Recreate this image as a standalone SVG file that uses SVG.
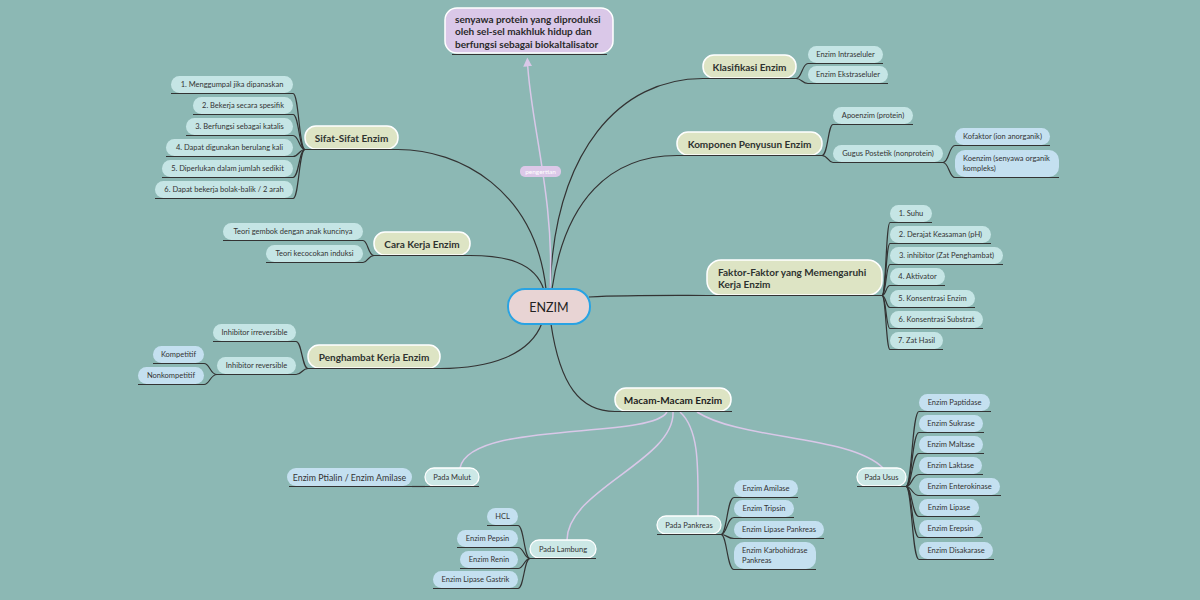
<svg xmlns="http://www.w3.org/2000/svg" width="1200" height="600" viewBox="0 0 1200 600">
<defs>
<style>
text{font-family:Lato,"Open Sans","Liberation Sans",sans-serif;fill:#333;dominant-baseline:central}
.main rect{fill:#dde4c4;stroke:#fff;stroke-width:1.5}
.main text{font-size:10px;font-weight:bold;text-anchor:middle;fill:#2e3230}
.cy rect{fill:#c5e5e5}
.bl rect{fill:#c4e0f0}
.pd rect{fill:#cce8e6;stroke:#fff;stroke-width:1.3}
.lf text{font-size:7.5px;text-anchor:middle}
.ml text{text-anchor:start}
.ul{stroke:#333;stroke-width:1;fill:none}
.cn path{fill:none;stroke:#333;stroke-width:1.2}
.cn path.lv{stroke:#d9c8e8;stroke-width:1.5}
</style>
<marker id="ar" viewBox="0 0 10 10" refX="5" refY="5" markerWidth="9" markerHeight="9" orient="auto" markerUnits="userSpaceOnUse">
<path d="M0,0 L10,5 L0,10 Z" fill="#d9c8e8"/>
</marker>
</defs>
<rect width="1200" height="600" fill="#8cb8b4"/>

<g id="connectors" class="cn">
<path d="M546,289 C535,190 460,149.5 398,149.5"/>
<path d="M544,290 C535,262 505,255.5 470,255.5"/>
<path d="M542,323 C530,355 490,368.5 440,368.5"/>
<path d="M550,289 C555,150 620,78.5 703,78.5"/>
<path d="M552,289 C565,200 610,155.5 677,155.5"/>
<path d="M589,297 C630,295 670,295.5 707,295.5"/>
<path d="M551,324 C560,385 580,411.5 615,411.5"/>
<path class="lv" d="M550,289 C555,200 530,120 527.5,62" marker-end="url(#ar)"/>
<!-- Sifat bracket -->
<path d="M305,149.5 C299,149.5 299,93.5 293,93.5"/>
<path d="M305,149.5 C299,149.5 299,114.5 293,114.5"/>
<path d="M305,149.5 C299,149.5 299,135.5 293,135.5"/>
<path d="M305,149.5 C299,149.5 299,156.5 293,156.5"/>
<path d="M305,149.5 C299,149.5 299,177.5 293,177.5"/>
<path d="M305,149.5 C299,149.5 299,198.5 293,198.5"/>
<!-- Cara -->
<path d="M374,255.5 C368,255.5 368,240.5 363,240.5"/>
<path d="M374,255.5 C368,255.5 368,262.5 363,262.5"/>
<!-- Penghambat -->
<path d="M308,368.5 C302,368.5 302,341.5 296,341.5"/>
<path d="M308,368.5 C302,368.5 302,374.5 296,374.5"/>
<path d="M217,374.5 C210,374.5 210,363.5 204,363.5"/>
<path d="M217,374.5 C210,374.5 210,384.5 204,384.5"/>
<!-- Klasifikasi -->
<path d="M796,78.5 C802,78.5 802,63.5 808,63.5"/>
<path d="M796,78.5 C802,78.5 802,83.5 808,83.5"/>
<!-- Komponen -->
<path d="M822,155.5 C828,155.5 828,124.5 833,124.5"/>
<path d="M822,155.5 C828,155.5 828,162.5 833,162.5"/>
<path d="M943,162.5 C949,162.5 949,145.5 955,145.5"/>
<path d="M943,162.5 C949,162.5 949,177.5 955,177.5"/>
<!-- Faktor -->
<path d="M882,295.5 C886,295.5 886,222.5 890,222.5"/>
<path d="M882,295.5 C886,295.5 886,243.5 890,243.5"/>
<path d="M882,295.5 C886,295.5 886,264.5 890,264.5"/>
<path d="M882,295.5 C886,295.5 886,285.5 890,285.5"/>
<path d="M882,295.5 C886,295.5 886,307.5 890,307.5"/>
<path d="M882,295.5 C886,295.5 886,328.5 890,328.5"/>
<path d="M882,295.5 C886,295.5 886,349.5 890,349.5"/>
<!-- Macam sub -->
<path class="lv" d="M667,412 C650,440 470,420 460,468"/>
<path class="lv" d="M673,412 C675,460 567,490 567,540"/>
<path class="lv" d="M680,412 C700,430 698,470 698,516"/>
<path class="lv" d="M697,412 C740,440 850,435 883,468"/>
<path d="M412,486.5 L425,486.5"/>
<!-- Lambung -->
<path d="M530,558.5 C524,558.5 524,525.5 518,525.5"/>
<path d="M530,558.5 C524,558.5 524,547.5 518,547.5"/>
<path d="M530,558.5 C524,558.5 524,568.5 518,568.5"/>
<path d="M530,558.5 C524,558.5 524,588.5 518,588.5"/>
<!-- Pankreas -->
<path d="M721,534.5 C727,534.5 727,497.5 734,497.5"/>
<path d="M721,534.5 C727,534.5 727,517.5 734,517.5"/>
<path d="M721,534.5 C727,534.5 727,538.5 734,538.5"/>
<path d="M721,534.5 C727,534.5 727,569.5 734,569.5"/>
<!-- Usus -->
<path d="M906,486.5 C912,486.5 912,411.5 919,411.5"/>
<path d="M906,486.5 C912,486.5 912,432.5 919,432.5"/>
<path d="M906,486.5 C912,486.5 912,453.5 919,453.5"/>
<path d="M906,486.5 C912,486.5 912,474.5 919,474.5"/>
<path d="M906,486.5 C912,486.5 912,495.5 919,495.5"/>
<path d="M906,486.5 C912,486.5 912,516.5 919,516.5"/>
<path d="M906,486.5 C912,486.5 912,537.5 919,537.5"/>
<path d="M906,486.5 C912,486.5 912,559.5 919,559.5"/>
</g>

<g id="root">
<rect x="508" y="289" width="82" height="35" rx="17" fill="#e8d4d4" stroke="#29a3e3" stroke-width="2"/>
<text x="549" y="307" font-size="12.5" text-anchor="middle" style="fill:#222">ENZIM</text>
</g>

<g id="definisi">
<rect x="445" y="8" width="168" height="45" rx="12" fill="#dac8e8" stroke="#fff" stroke-width="1.5"/>
<line class="ul" x1="452" y1="54.5" x2="607" y2="54.5"/>
<text x="455" y="18.5" font-size="10" font-weight="bold" style="fill:#2a2a2a">senyawa protein yang diproduksi</text>
<text x="455" y="31" font-size="10" font-weight="bold" style="fill:#2a2a2a">oleh sel-sel makhluk hidup dan</text>
<text x="455" y="43.5" font-size="10" font-weight="bold" style="fill:#2a2a2a">berfungsi sebagai biokaltalisator</text>
</g>

<g id="label-pengertian">
<rect x="520" y="166" width="41" height="11" rx="5" fill="#dcc8e8"/>
<text x="540.5" y="171.5" font-size="6.5" text-anchor="middle" style="fill:#ffffff">pengertian</text>
</g>

<g id="sifat" class="main"><rect x="305" y="126" width="93" height="23" rx="11"/><line class="ul" x1="305" y1="149.5" x2="398" y2="149.5"/><text x="351.5" y="137.5">Sifat-Sifat Enzim</text></g>
<g id="cara" class="main"><rect x="374" y="232" width="96" height="23" rx="11"/><line class="ul" x1="374" y1="255.5" x2="470" y2="255.5"/><text x="422" y="243.5">Cara Kerja Enzim</text></g>
<g id="penghambat" class="main"><rect x="308" y="345" width="132" height="23" rx="11"/><line class="ul" x1="308" y1="368.5" x2="440" y2="368.5"/><text x="374" y="356.5">Penghambat Kerja Enzim</text></g>
<g id="klasifikasi" class="main"><rect x="703" y="55" width="93" height="23" rx="11"/><line class="ul" x1="703" y1="78.5" x2="796" y2="78.5"/><text x="749.5" y="66.5">Klasifikasi Enzim</text></g>
<g id="komponen" class="main"><rect x="677" y="132" width="145" height="23" rx="11"/><line class="ul" x1="677" y1="155.5" x2="822" y2="155.5"/><text x="749.5" y="143.5">Komponen Penyusun Enzim</text></g>
<g id="faktor" class="main"><rect x="707" y="260" width="175" height="35" rx="14"/><line class="ul" x1="707" y1="295.5" x2="882" y2="295.5"/><text x="718" y="271.5" style="text-anchor:start">Faktor-Faktor yang Memengaruhi</text><text x="718" y="284" style="text-anchor:start">Kerja Enzim</text></g>
<g id="macam" class="main"><rect x="615" y="388" width="116" height="23" rx="11"/><line class="ul" x1="615" y1="411.5" x2="732" y2="411.5"/><text x="673" y="399.5" style="fill:#1e1e1e">Macam-Macam Enzim</text></g>

<!-- Sifat children -->
<g id="s1" class="lf cy"><rect x="171" y="76" width="122" height="17" rx="8.5"/><line class="ul" x1="171" y1="93.5" x2="293" y2="93.5"/><text x="232" y="84.5">1. Menggumpal jika dipanaskan</text></g>
<g id="s2" class="lf cy"><rect x="193" y="97" width="100" height="17" rx="8.5"/><line class="ul" x1="193" y1="114.5" x2="293" y2="114.5"/><text x="243" y="105.5">2. Bekerja secara spesifik</text></g>
<g id="s3" class="lf cy"><rect x="186" y="118" width="107" height="17" rx="8.5"/><line class="ul" x1="186" y1="135.5" x2="293" y2="135.5"/><text x="239.5" y="126.5">3. Berfungsi sebagai katalis</text></g>
<g id="s4" class="lf cy"><rect x="166" y="139" width="127" height="17" rx="8.5"/><line class="ul" x1="166" y1="156.5" x2="293" y2="156.5"/><text x="229.5" y="147.5">4. Dapat digunakan berulang kali</text></g>
<g id="s5" class="lf cy"><rect x="162" y="160" width="131" height="17" rx="8.5"/><line class="ul" x1="162" y1="177.5" x2="293" y2="177.5"/><text x="227.5" y="168.5">5. Diperlukan dalam jumlah sedikit</text></g>
<g id="s6" class="lf cy"><rect x="155" y="181" width="138" height="17" rx="8.5"/><line class="ul" x1="155" y1="198.5" x2="293" y2="198.5"/><text x="224" y="189.5">6. Dapat bekerja bolak-balik / 2 arah</text></g>

<!-- Cara children -->
<g id="c1" class="lf cy"><rect x="223" y="223" width="140" height="17" rx="8.5"/><line class="ul" x1="223" y1="240.5" x2="363" y2="240.5"/><text x="293" y="231.5">Teori gembok dengan anak kuncinya</text></g>
<g id="c2" class="lf cy"><rect x="266" y="245" width="97" height="17" rx="8.5"/><line class="ul" x1="266" y1="262.5" x2="363" y2="262.5"/><text x="314.5" y="253.5">Teori kecocokan induksi</text></g>

<!-- Penghambat children -->
<g id="p1" class="lf cy"><rect x="213" y="324" width="83" height="17" rx="8.5"/><line class="ul" x1="213" y1="341.5" x2="296" y2="341.5"/><text x="254.5" y="332.5">Inhibitor irreversible</text></g>
<g id="p2" class="lf cy"><rect x="217" y="357" width="79" height="17" rx="8.5"/><line class="ul" x1="217" y1="374.5" x2="296" y2="374.5"/><text x="256.5" y="365.5">Inhibitor reversible</text></g>
<g id="p3" class="lf bl"><rect x="153" y="346" width="51" height="17" rx="8.5"/><line class="ul" x1="153" y1="363.5" x2="204" y2="363.5"/><text x="178.5" y="354.5">Kompetitif</text></g>
<g id="p4" class="lf bl"><rect x="138" y="367" width="66" height="17" rx="8.5"/><line class="ul" x1="138" y1="384.5" x2="204" y2="384.5"/><text x="171" y="375.5">Nonkompetitif</text></g>

<!-- Klasifikasi children -->
<g id="k1" class="lf cy"><rect x="808" y="46" width="75" height="17" rx="8.5"/><line class="ul" x1="808" y1="63.5" x2="883" y2="63.5"/><text x="845.5" y="54.5">Enzim Intraseluler</text></g>
<g id="k2" class="lf cy"><rect x="808" y="66" width="80" height="17" rx="8.5"/><line class="ul" x1="808" y1="83.5" x2="888" y2="83.5"/><text x="848" y="74.5">Enzim Ekstraseluler</text></g>

<!-- Komponen children -->
<g id="m1" class="lf cy"><rect x="833" y="107" width="80" height="17" rx="8.5"/><line class="ul" x1="833" y1="124.5" x2="913" y2="124.5"/><text x="873" y="115.5">Apoenzim (protein)</text></g>
<g id="m2" class="lf cy"><rect x="833" y="145" width="110" height="17" rx="8.5"/><line class="ul" x1="833" y1="162.5" x2="943" y2="162.5"/><text x="888" y="153.5">Gugus Postetik (nonprotein)</text></g>
<g id="m3" class="lf bl"><rect x="955" y="128" width="95" height="17" rx="8.5"/><line class="ul" x1="955" y1="145.5" x2="1050" y2="145.5"/><text x="1002.5" y="136.5">Kofaktor (ion anorganik)</text></g>
<g id="m4" class="lf bl ml"><rect x="955" y="150" width="104" height="27" rx="10"/><line class="ul" x1="955" y1="177.5" x2="1059" y2="177.5"/><text x="963" y="158.5">Koenzim (senyawa organik</text><text x="963" y="168.5">kompleks)</text></g>

<!-- Faktor children -->
<g id="f1" class="lf cy"><rect x="890" y="205" width="42" height="17" rx="8.5"/><line class="ul" x1="890" y1="222.5" x2="932" y2="222.5"/><text x="911" y="213.5">1. Suhu</text></g>
<g id="f2" class="lf cy"><rect x="890" y="226" width="101" height="17" rx="8.5"/><line class="ul" x1="890" y1="243.5" x2="991" y2="243.5"/><text x="940.5" y="234.5">2. Derajat Keasaman (pH)</text></g>
<g id="f3" class="lf cy"><rect x="890" y="247" width="113" height="17" rx="8.5"/><line class="ul" x1="890" y1="264.5" x2="1003" y2="264.5"/><text x="946.5" y="255.5">3. inhibitor (Zat Penghambat)</text></g>
<g id="f4" class="lf cy"><rect x="890" y="268" width="55" height="17" rx="8.5"/><line class="ul" x1="890" y1="285.5" x2="945" y2="285.5"/><text x="917.5" y="276.5">4. Aktivator</text></g>
<g id="f5" class="lf cy"><rect x="890" y="290" width="85" height="17" rx="8.5"/><line class="ul" x1="890" y1="307.5" x2="975" y2="307.5"/><text x="932.5" y="298.5">5. Konsentrasi Enzim</text></g>
<g id="f6" class="lf cy"><rect x="890" y="311" width="93" height="17" rx="8.5"/><line class="ul" x1="890" y1="328.5" x2="983" y2="328.5"/><text x="936.5" y="319.5">6. Konsentrasi Substrat</text></g>
<g id="f7" class="lf cy"><rect x="890" y="332" width="53" height="17" rx="8.5"/><line class="ul" x1="890" y1="349.5" x2="943" y2="349.5"/><text x="916.5" y="340.5">7. Zat Hasil</text></g>

<!-- Macam children -->
<g id="mulut" class="lf pd"><rect x="425" y="468" width="54" height="18" rx="9"/><line class="ul" x1="425" y1="486.5" x2="479" y2="486.5"/><text x="452" y="477">Pada Mulut</text></g>
<g id="ptialin" class="lf bl"><rect x="287" y="468" width="125" height="18" rx="9"/><line class="ul" x1="289" y1="486.5" x2="412" y2="486.5"/><text x="349.5" y="477" style="font-size:8.8px">Enzim Ptialin / Enzim Amilase</text></g>
<g id="lambung" class="lf pd"><rect x="530" y="540" width="66" height="18" rx="9"/><line class="ul" x1="530" y1="558.5" x2="596" y2="558.5"/><text x="563" y="549">Pada Lambung</text></g>
<g id="l1" class="lf bl"><rect x="487" y="508" width="31" height="17" rx="8.5"/><line class="ul" x1="487" y1="525.5" x2="518" y2="525.5"/><text x="502.5" y="516.5">HCL</text></g>
<g id="l2" class="lf bl"><rect x="457" y="530" width="61" height="17" rx="8.5"/><line class="ul" x1="457" y1="547.5" x2="518" y2="547.5"/><text x="487.5" y="538.5">Enzim Pepsin</text></g>
<g id="l3" class="lf bl"><rect x="460" y="551" width="58" height="17" rx="8.5"/><line class="ul" x1="460" y1="568.5" x2="518" y2="568.5"/><text x="489" y="559.5">Enzim Renin</text></g>
<g id="l4" class="lf bl"><rect x="433" y="571" width="85" height="17" rx="8.5"/><line class="ul" x1="433" y1="588.5" x2="518" y2="588.5"/><text x="475.5" y="579.5">Enzim Lipase Gastrik</text></g>
<g id="pankreas" class="lf pd"><rect x="657" y="516" width="64" height="18" rx="9"/><line class="ul" x1="657" y1="534.5" x2="721" y2="534.5"/><text x="689" y="525">Pada Pankreas</text></g>
<g id="n1" class="lf bl"><rect x="734" y="480" width="64" height="17" rx="8.5"/><line class="ul" x1="734" y1="497.5" x2="798" y2="497.5"/><text x="766" y="488.5">Enzim Amilase</text></g>
<g id="n2" class="lf bl"><rect x="734" y="500" width="60" height="17" rx="8.5"/><line class="ul" x1="734" y1="517.5" x2="794" y2="517.5"/><text x="764" y="508.5">Enzim Tripsin</text></g>
<g id="n3" class="lf bl"><rect x="734" y="521" width="90" height="17" rx="8.5"/><line class="ul" x1="734" y1="538.5" x2="824" y2="538.5"/><text x="779" y="529.5">Enzim Lipase Pankreas</text></g>
<g id="n4" class="lf bl ml"><rect x="734" y="542" width="82" height="27" rx="10"/><line class="ul" x1="734" y1="569.5" x2="816" y2="569.5"/><text x="742" y="550.5">Enzim Karbohidrase</text><text x="742" y="560">Pankreas</text></g>
<g id="usus" class="lf pd"><rect x="857" y="468" width="49" height="18" rx="9"/><line class="ul" x1="857" y1="486.5" x2="906" y2="486.5"/><text x="881.5" y="477">Pada Usus</text></g>
<g id="u1" class="lf bl"><rect x="919" y="394" width="71" height="17" rx="8.5"/><line class="ul" x1="919" y1="411.5" x2="991" y2="411.5"/><text x="954.5" y="402.5">Enzim Paptidase</text></g>
<g id="u2" class="lf bl"><rect x="919" y="415" width="64" height="17" rx="8.5"/><line class="ul" x1="919" y1="432.5" x2="984" y2="432.5"/><text x="951" y="423.5">Enzim Sukrase</text></g>
<g id="u3" class="lf bl"><rect x="919" y="436" width="64" height="17" rx="8.5"/><line class="ul" x1="919" y1="453.5" x2="984" y2="453.5"/><text x="951" y="444.5">Enzim Maltase</text></g>
<g id="u4" class="lf bl"><rect x="919" y="457" width="63" height="17" rx="8.5"/><line class="ul" x1="919" y1="474.5" x2="983" y2="474.5"/><text x="950.5" y="465.5">Enzim Laktase</text></g>
<g id="u5" class="lf bl"><rect x="919" y="478" width="81" height="17" rx="8.5"/><line class="ul" x1="919" y1="495.5" x2="1001" y2="495.5"/><text x="959.5" y="486.5">Enzim Enterokinase</text></g>
<g id="u6" class="lf bl"><rect x="919" y="499" width="60" height="17" rx="8.5"/><line class="ul" x1="919" y1="516.5" x2="980" y2="516.5"/><text x="949" y="507.5">Enzim Lipase</text></g>
<g id="u7" class="lf bl"><rect x="919" y="520" width="63" height="17" rx="8.5"/><line class="ul" x1="919" y1="537.5" x2="983" y2="537.5"/><text x="950.5" y="528.5">Enzim Erepsin</text></g>
<g id="u8" class="lf bl"><rect x="919" y="542" width="74" height="17" rx="8.5"/><line class="ul" x1="919" y1="559.5" x2="994" y2="559.5"/><text x="956" y="550.5">Enzim Disakarase</text></g>
</svg>
